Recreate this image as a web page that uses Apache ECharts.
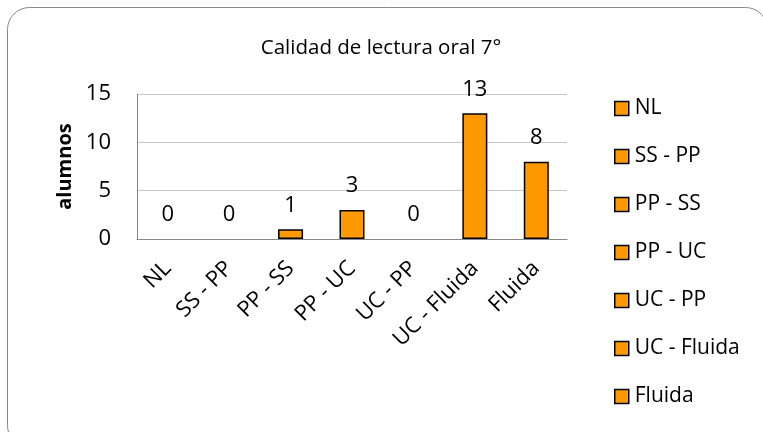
<!DOCTYPE html>
<html>
<head>
<meta charset="utf-8">
<script src="https://cdn.jsdelivr.net/npm/echarts@6/dist/echarts.min.js"></script>
<style>
html, body { margin: 0; padding: 0; background: #fff; }
#chart { width: 763px; height: 432px; }
</style>
</head>
<body>
<div id="chart"></div>
<script>
var categories = ['NL', 'SS - PP', 'PP - SS', 'PP - UC', 'UC - PP', 'UC - Fluida', 'Fluida'];
var alumnos = [0, 0, 1, 3, 0, 13, 8];
var yTicks = [0, 5, 10, 15];

var myChart = echarts.init(document.getElementById('chart'));
var orange = '#FF9900';
var font = 'Open Sans';

// one series per category so the legend lists every category
var series = categories.map(function (name, i) {
    var data = categories.map(function (c, j) {
        if (j !== i) return '-';
        var v = alumnos[j];
        return v === 0 ? { value: v, itemStyle: { borderWidth: 0, opacity: 0 } } : v;
    });
    return {
        name: name,
        type: 'bar',
        stack: 'total',
        barWidth: 25,
        data: data,
        itemStyle: { color: orange, borderColor: '#000', borderWidth: 1.5 },
        label: { show: true, position: 'top', distance: 13, fontFamily: font, fontSize: 22, color: '#000', opacity: 1 }
    };
});

var option = {
    animation: false,
    title: {
        text: 'Calidad de lectura oral 7°',
        left: 376,
        top: 33,
        textAlign: 'center',
        textStyle: { fontFamily: font, fontSize: 20.5, fontWeight: 'normal', color: '#000' }
    },
    graphic: [{
        type: 'rect',
        shape: { x: 7.5, y: 7.5, width: 760, height: 440, r: 22 },
        style: { fill: 'none', stroke: '#888', lineWidth: 1 },
        silent: true
    }],
    legend: {
        orient: 'vertical',
        left: 609,
        top: 93,
        icon: 'rect',
        itemWidth: 14,
        itemHeight: 14,
        itemGap: 27,
        itemStyle: { borderColor: '#000', borderWidth: 1.5 },
        textStyle: { fontFamily: font, fontSize: 21, color: '#000', padding: [0, 0, 0, 1] },
        data: categories
    },
    grid: { left: 137, right: 196, top: 94, bottom: 193 },
    xAxis: {
        type: 'category',
        data: categories,
        axisLine: { lineStyle: { color: '#888' } },
        axisTick: { show: false },
        axisLabel: { rotate: 45, fontFamily: font, fontSize: 22, color: '#000', margin: 26, interval: 0 }
    },
    yAxis: {
        type: 'value',
        min: 0,
        max: 15,
        interval: 5,
        name: 'alumnos',
        nameLocation: 'middle',
        nameGap: 62,
        nameTextStyle: { fontFamily: font, fontSize: 20, fontWeight: 'bold', color: '#000' },
        axisLine: { show: true, lineStyle: { color: '#888' } },
        axisTick: { show: false },
        splitLine: { lineStyle: { color: '#c8c8c8' } },
        axisLabel: { fontFamily: font, fontSize: 22, color: '#000', margin: 26,
            formatter: function (v) { return yTicks.indexOf(v) >= 0 ? v : ''; } }
    },
    series: series
};
myChart.setOption(option);
</script>
</body>
</html>
